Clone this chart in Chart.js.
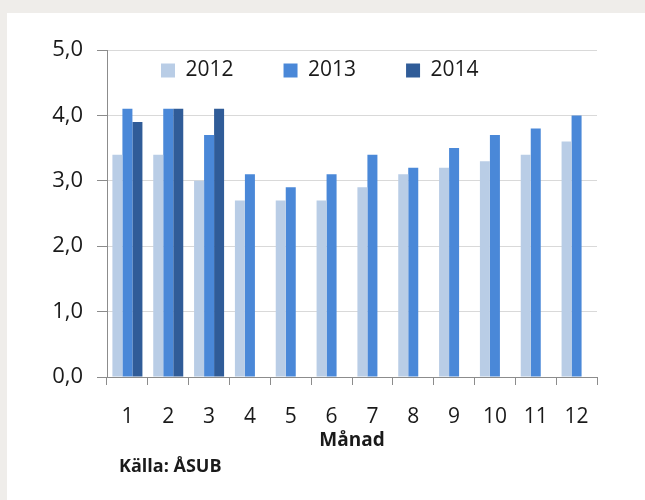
<!DOCTYPE html>
<html lang="sv">
<head>
<meta charset="utf-8">
<script src="https://cdn.jsdelivr.net/npm/chart.js@4/dist/chart.umd.min.js"></script>
<style>
    html, body { margin: 0; padding: 0; }
    body { width: 645px; height: 500px; background: #efedea; position: relative; overflow: hidden; }
    #panel { position: absolute; left: 7px; top: 13px; right: 0; bottom: 0; background: #ffffff; }
    #wrap { position: absolute; left: 0; top: 0; width: 645px; height: 500px; }
    #source { position: absolute; left: 119px; top: 455px; font: bold 18px 'Open Sans', sans-serif; line-height: 20px; color: #1a1a1a; }
</style>
</head>
<body>
<div id="panel"></div>
<div id="wrap"><canvas id="myChart"></canvas></div>
<div id="source">Källa: ÅSUB</div>
<script>
const months = ['1', '2', '3', '4', '5', '6', '7', '8', '9', '10', '11', '12'];
const data2012 = [3.4, 3.4, 3.0, 2.7, 2.7, 2.7, 2.9, 3.1, 3.2, 3.3, 3.4, 3.6];
const data2013 = [4.1, 4.1, 3.7, 3.1, 2.9, 3.1, 3.4, 3.2, 3.5, 3.7, 3.8, 4.0];
const data2014 = [3.9, 4.1, 4.1, null, null, null, null, null, null, null, null, null];
const yTicks = [0, 1, 2, 3, 4, 5];

const main = () => {
    createChart();
};

/**
 * Lägger legenden inne i diagramytan utan att den tar plats.
 */
const legendShift = {
    id: 'legendShift',
    beforeLayout: (chart) => {
        const legend = chart.legend;
        if (legend && !legend._noHeight) {
            const fit = legend.fit.bind(legend);
            legend.fit = () => {
                fit();
                legend.height = 0;
            };
            legend._noHeight = true;
        }
    },
    afterLayout: (chart) => {
        const area = chart.chartArea;
        const legend = chart.legend;
        legend.top = area.top - 40;
        legend.bottom = area.top + 40;
        legend.height = legend.bottom - legend.top;
        legend.left = area.left + 4;
        legend.right = area.right;
        legend.width = legend.right - legend.left;
    },
};

/**
 * Skapar stapeldiagrammet.
 */
const createChart = () => {
    Chart.defaults.font.family = "'Open Sans', sans-serif";
    Chart.defaults.color = '#1a1a1a';

    const chartData = {
        labels: months,
        datasets: [
            { label: '2012', data: data2012, backgroundColor: '#b9cde6', borderWidth: 0 },
            { label: '2013', data: data2013, backgroundColor: '#4a88d8', borderWidth: 0 },
            { label: '2014', data: data2014, backgroundColor: '#305c98', borderWidth: 0 },
        ],
    };

    const config = {
        type: 'bar',
        data: chartData,
        plugins: [legendShift],
        options: {
            responsive: true,
            maintainAspectRatio: false,
            animation: false,
            categoryPercentage: 0.735,
            barPercentage: 1.0,
            layout: {
                padding: { left: 0, right: 48, top: 50, bottom: 48 },
            },
            plugins: {
                tooltip: { enabled: false },
                legend: {
                    position: 'top',
                    fullSize: false,
                    align: 'start',
                    labels: {
                        boxWidth: 14,
                        boxHeight: 14,
                        padding: 50,
                        font: { size: 21 },
                    },
                },
            },
            scales: {
                x: {
                    offset: true,
                    afterFit: (scale) => {
                        scale.height = 75;
                    },
                    grid: {
                        offset: true,
                        drawOnChartArea: false,
                        tickLength: 8,
                        tickColor: '#8c8c8c',
                    },
                    border: { color: '#8c8c8c' },
                    ticks: { font: { size: 21 }, padding: 19, maxRotation: 0 },
                    title: {
                        display: true,
                        text: 'Månad',
                        font: { size: 19, weight: 'bold' },
                        padding: { top: 0, bottom: 0 },
                    },
                },
                y: {
                    min: 0,
                    max: 5,
                    afterFit: (scale) => {
                        scale.width = 107;
                    },
                    afterBuildTicks: (scale) => {
                        scale.ticks = yTicks.map((v) => ({ value: v }));
                    },
                    grid: {
                        color: '#d9d9d9',
                        tickLength: 10,
                        tickColor: '#8c8c8c',
                    },
                    border: { color: '#8c8c8c' },
                    ticks: {
                        font: { size: 22 },
                        padding: 14,
                        callback: (value) => value.toFixed(1).replace('.', ','),
                    },
                },
            },
        },
    };

    return new Chart(document.getElementById('myChart'), config);
};

main();
</script>
</body>
</html>
